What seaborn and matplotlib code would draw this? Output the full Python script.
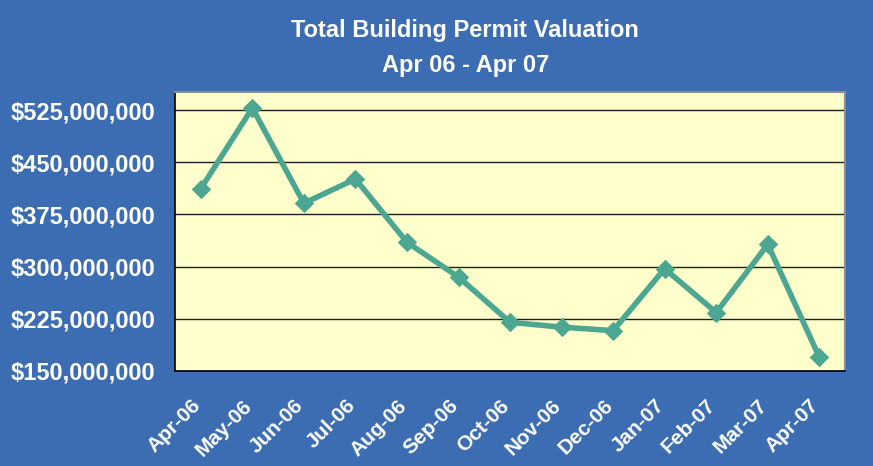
import matplotlib
matplotlib.use("Agg")
import matplotlib.pyplot as plt
import matplotlib.ticker as mticker
import matplotlib.transforms as mtransforms
import seaborn as sns
import pandas as pd

# monthly permit valuation
months = ['Apr-06', 'May-06', 'Jun-06', 'Jul-06', 'Aug-06', 'Sep-06', 'Oct-06',
          'Nov-06', 'Dec-06', 'Jan-07', 'Feb-07', 'Mar-07', 'Apr-07']
valuation = [412e6, 528e6, 391e6, 426e6, 335e6, 285e6, 220e6,
             213e6, 208e6, 297e6, 234e6, 332e6, 170e6]
y_ticks = [150e6, 225e6, 300e6, 375e6, 450e6, 525e6]

bg_blue = '#3C6DB2'
plot_yellow = '#FFFFCC'
line_teal = '#4BA792'

sns.set_style("white")
plt.rcParams['font.family'] = ['Liberation Sans', 'DejaVu Sans']

df = pd.DataFrame({'pos': range(len(months)), 'value': valuation})

fig = plt.figure(figsize=(8.73, 4.66), dpi=100, facecolor=bg_blue)
ax = fig.add_axes([0.2005, 0.2039, 0.7675, 0.5987])
ax.set_facecolor(plot_yellow)

sns.lineplot(data=df, x='pos', y='value', ax=ax, color=line_teal, linewidth=4,
             marker='D', markersize=9, markeredgecolor=line_teal, zorder=3)

ax.set_xlim(-0.5, len(months) - 0.5)
ax.set_ylim(150e6, 551e6)

ax.set_yticks(y_ticks)
ax.yaxis.set_major_formatter(mticker.FuncFormatter(lambda v, p: '${:,.0f}'.format(v)))
for lbl in ax.get_yticklabels():
    lbl.set_fontsize(17)
    lbl.set_fontweight('bold')
    lbl.set_color('white')
ax.tick_params(axis='y', direction='out', length=6, width=1, color='black', pad=8)

# ticks between categories, labels at category centres
ax.set_xticks([i - 0.5 for i in range(len(months) + 1)])
ax.set_xticklabels([])
ax.set_xticks(range(len(months)), minor=True)
ax.set_xticklabels(months, minor=True, rotation=45, ha='right',
                   rotation_mode='anchor', fontsize=15, fontweight='bold', color='white')
ax.tick_params(axis='x', which='major', direction='out', length=6, width=1, color='black')
ax.tick_params(axis='x', which='minor', length=0, pad=18)
shift = mtransforms.ScaledTranslation(-10 / 100, 0, fig.dpi_scale_trans)
for lbl in ax.get_xticklabels(minor=True):
    lbl.set_transform(lbl.get_transform() + shift)

ax.grid(axis='y', color='#202020', linewidth=1)
ax.set_axisbelow(True)
ax.set_xlabel('')
ax.set_ylabel('')

for side in ['left', 'bottom']:
    ax.spines[side].set_color('black')
    ax.spines[side].set_linewidth(1.2)
for side in ['top', 'right']:
    ax.spines[side].set_color('#8C8C8C')
    ax.spines[side].set_linewidth(1.5)

fig.text(0.533, 0.935, 'Total Building Permit Valuation', ha='center', va='center',
         fontsize=17, fontweight='bold', color='white')
fig.text(0.533, 0.86, 'Apr 06 - Apr 07', ha='center', va='center',
         fontsize=17, fontweight='bold', color='white')

fig.savefig('out.png', dpi=100, facecolor=bg_blue)
